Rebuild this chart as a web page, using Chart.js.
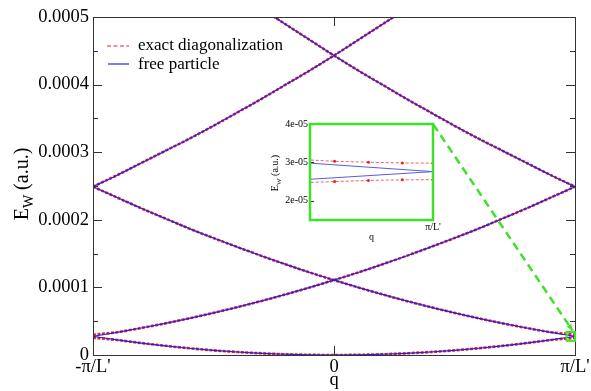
<!DOCTYPE html>
<html>
<head>
<meta charset="utf-8">
<script src="https://cdn.jsdelivr.net/npm/chart.js@4.4.0/dist/chart.umd.min.js"></script>
<style>
  body { margin: 0; background: #fff; }
  #wrap { position: relative; width: 591px; height: 391px; }
  #inset { position: absolute; left: 255px; top: 114px; }
</style>
</head>
<body>
<div id="wrap">
  <canvas id="main" width="591" height="391"></canvas>
  <canvas id="inset" width="195" height="135"></canvas>
</div>
<script>
// q in units of pi/L', energies in units of 1e-5 a.u.
const qMain = [-1, -0.9, -0.8, -0.7, -0.6, -0.5, -0.4, -0.3, -0.2, -0.1, 0, 0.1, 0.2, 0.3, 0.4, 0.5, 0.6, 0.7, 0.8, 0.9, 1];
const qTicks = [-1, 0, 1];
const qTickLabels = ["-π/L'", "0", "π/L'"];

// free particle branches
const freeBand0 = [2.77, 2.24, 1.77, 1.36, 1.00, 0.69, 0.44, 0.25, 0.11, 0.03, 0, 0.03, 0.11, 0.25, 0.44, 0.69, 1.00, 1.36, 1.77, 2.24, 2.77];
const freeDown1 = [24.9, 23.3, 21.7, 20.2, 18.7, 17.3, 15.96, 14.65, 13.4, 12.2, 11.08, 10.0, 8.97, 8.0, 7.09, 6.23, 5.43, 4.68, 3.99, 3.35, 2.77];
const freeUp1 = [2.77, 3.35, 3.99, 4.68, 5.43, 6.23, 7.09, 8.0, 8.97, 10.0, 11.08, 12.2, 13.4, 14.65, 15.96, 17.3, 18.7, 20.2, 21.7, 23.3, 24.9];
const freeDown2 = [null, null, null, null, null, null, null, 51.2, 48.9, 46.6, 44.3, 42.1, 40.0, 37.9, 35.9, 33.9, 32.0, 30.2, 28.4, 26.6, 24.9];
const freeUp2 = [24.9, 26.6, 28.4, 30.2, 32.0, 33.9, 35.9, 37.9, 40.0, 42.1, 44.3, 46.6, 48.9, 51.2, null, null, null, null, null, null, null];

// exact diagonalization (small gaps open at the zone edge)
const exactBand0 = [2.55, 2.22, 1.77, 1.36, 1.00, 0.69, 0.44, 0.25, 0.11, 0.03, 0, 0.03, 0.11, 0.25, 0.44, 0.69, 1.00, 1.36, 1.77, 2.22, 2.55];
const exactDown1 = [24.9, 23.3, 21.7, 20.2, 18.7, 17.3, 15.96, 14.65, 13.4, 12.2, 11.08, 10.0, 8.97, 8.0, 7.09, 6.23, 5.43, 4.68, 3.99, 3.37, 3.00];
const exactUp1 = [3.00, 3.37, 3.99, 4.68, 5.43, 6.23, 7.09, 8.0, 8.97, 10.0, 11.08, 12.2, 13.4, 14.65, 15.96, 17.3, 18.7, 20.2, 21.7, 23.3, 24.9];
const exactDown2 = [null, null, null, null, null, null, null, 51.2, 48.9, 46.6, 44.3, 42.1, 40.0, 37.9, 35.9, 33.9, 32.0, 30.2, 28.4, 26.6, 24.9];
const exactUp2 = [24.9, 26.6, 28.4, 30.2, 32.0, 33.9, 35.9, 37.9, 40.0, 42.1, 44.3, 46.6, 48.9, 51.2, null, null, null, null, null, null, null];

// inset, close to q = pi/L'
const qInsetFree = [0.96, 1.0];
const insetFreeUpper = [2.98, 2.76];
const insetFreeLower = [2.56, 2.76];
const qInsetExact = [0.957, 0.968, 0.979, 0.99, 1.0];
const insetExactUpper = [3.075, 3.03, 3.005, 2.985, 2.98];
const insetExactLower = [2.47, 2.50, 2.53, 2.545, 2.55];
const insetYTicks = [2, 3, 4];

const SERIF = '"Liberation Serif", "Times New Roman", serif';
const RED = '#ee2020';
const BLUE = '#2424dd';
const GREEN = '#3fe02a';

function pts(xs, ys) {
	return xs.map((x, i) => ({x: x, y: ys[i]}));
}

function blueLine(ys) {
	return {data: pts(qMain, ys), borderColor: BLUE, borderWidth: 1.2, pointRadius: 0,
		cubicInterpolationMode: 'monotone', clip: 0};
}
function redLine(ys) {
	return {data: pts(qMain, ys), borderColor: RED, borderWidth: 2.6, borderDash: [3, 1.5], pointRadius: 0,
		cubicInterpolationMode: 'monotone', clip: 0};
}

function drawEwTitle(ctx, cx, cy, big, small) {
	ctx.save();
	ctx.translate(cx, cy);
	ctx.rotate(-Math.PI / 2);
	ctx.fillStyle = '#000';
	ctx.textBaseline = 'alphabetic';
	ctx.textAlign = 'left';
	let fBig = big + 'px ' + SERIF, fSmall = small + 'px ' + SERIF;
	ctx.font = fBig;
	let wE = ctx.measureText('E').width;
	let wRest = ctx.measureText(' (a.u.)').width;
	ctx.font = fSmall;
	let wW = ctx.measureText('W').width;
	let x0 = -(wE + wW + wRest) / 2;
	let base = big * 0.33;
	ctx.font = fBig;
	ctx.fillText('E', x0, base);
	ctx.font = fSmall;
	ctx.fillText('W', x0 + wE, base + big * 0.25);
	ctx.font = fBig;
	ctx.fillText(' (a.u.)', x0 + wE + wW, base);
	ctx.restore();
}

const mainDecor = {
	id: 'mainDecor',
	afterDraw(chart) {
		const {ctx, chartArea: a, scales: {x, y}} = chart;
		ctx.save();

		// frame and inward ticks
		ctx.strokeStyle = '#333';
		ctx.lineWidth = 1;
		ctx.strokeRect(a.left + 0.5, a.top + 0.5, a.right - a.left, a.bottom - a.top);
		ctx.beginPath();
		y.ticks.forEach((t, i) => {
			let py = Math.round(y.getPixelForValue(t.value)) + 0.5;
			ctx.moveTo(a.left, py); ctx.lineTo(a.left + 9, py);
			ctx.moveTo(a.right, py); ctx.lineTo(a.right - 9, py);
			if (i < y.ticks.length - 1) {
				let pm = Math.round(y.getPixelForValue(t.value + 5)) + 0.5;
				ctx.moveTo(a.left, pm); ctx.lineTo(a.left + 5, pm);
				ctx.moveTo(a.right, pm); ctx.lineTo(a.right - 5, pm);
			}
		});
		let px = Math.round(x.getPixelForValue(0)) + 0.5;
		ctx.moveTo(px, a.bottom); ctx.lineTo(px, a.bottom - 9);
		ctx.moveTo(px, a.top); ctx.lineTo(px, a.top + 9);
		ctx.stroke();

		// legend
		ctx.font = '17px ' + SERIF;
		ctx.textBaseline = 'middle';
		ctx.fillStyle = '#000';
		ctx.lineWidth = 1.2;
		ctx.strokeStyle = RED;
		ctx.setLineDash([4, 2.5]);
		ctx.beginPath();
		ctx.moveTo(a.left + 14, a.top + 29); ctx.lineTo(a.left + 36, a.top + 29);
		ctx.stroke();
		ctx.setLineDash([]);
		ctx.strokeStyle = BLUE;
		ctx.beginPath();
		ctx.moveTo(a.left + 15, a.top + 47); ctx.lineTo(a.left + 36, a.top + 47);
		ctx.stroke();
		ctx.fillText('exact diagonalization', a.left + 45, a.top + 29);
		ctx.fillText('free particle', a.left + 45, a.top + 48);

		// y title
		drawEwTitle(ctx, 21, 184, 20, 14);

		// zoom box and arrow to the inset
		ctx.strokeStyle = GREEN;
		ctx.fillStyle = GREEN;
		ctx.lineWidth = 2;
		let bx0 = x.getPixelForValue(0.965), bx1 = x.getPixelForValue(1.0);
		let by0 = y.getPixelForValue(3.4), by1 = y.getPixelForValue(2.1);
		ctx.strokeRect(bx0, by0, bx1 - bx0, by1 - by0);
		let sx = x.getPixelForValue(0.412), sy = y.getPixelForValue(34.1);
		let ex = x.getPixelForValue(0.99), ey = y.getPixelForValue(3.6);
		ctx.lineWidth = 2.5;
		ctx.setLineDash([8, 5]);
		ctx.beginPath();
		ctx.moveTo(sx, sy); ctx.lineTo(ex, ey);
		ctx.stroke();
		ctx.setLineDash([]);
		let ang = Math.atan2(ey - sy, ex - sx);
		ctx.beginPath();
		ctx.moveTo(ex, ey);
		ctx.lineTo(ex - 7 * Math.cos(ang - 0.4), ey - 7 * Math.sin(ang - 0.4));
		ctx.lineTo(ex - 7 * Math.cos(ang + 0.4), ey - 7 * Math.sin(ang + 0.4));
		ctx.closePath();
		ctx.fill();
		ctx.restore();
	}
};

new Chart(document.getElementById('main'), {
	type: 'line',
	data: {
		datasets: [
			blueLine(freeBand0), blueLine(freeDown1), blueLine(freeUp1), blueLine(freeDown2), blueLine(freeUp2),
			redLine(exactBand0), redLine(exactDown1), redLine(exactUp1), redLine(exactDown2), redLine(exactUp2)
		]
	},
	options: {
		responsive: false,
		animation: false,
		devicePixelRatio: 1,
		layout: {padding: {top: 17, right: 16, left: 0, bottom: 0}},
		plugins: {legend: {display: false}, tooltip: {enabled: false}},
		scales: {
			x: {
				type: 'linear', min: -1, max: 1,
				afterBuildTicks: s => { s.ticks = qTicks.map(v => ({value: v})); },
				afterFit: s => { s.height = 36; },
				ticks: {
					callback: (v, i) => qTickLabels[i],
					font: {family: SERIF, size: 18.5}, color: '#000',
					maxRotation: 0, autoSkip: false, padding: 1
				},
				grid: {display: false, drawTicks: false},
				border: {display: false},
				title: {display: true, text: 'q', font: {family: SERIF, size: 18.5}, color: '#000', padding: 0}
			},
			y: {
				min: 0, max: 50,
				afterFit: s => { s.width = 93; },
				ticks: {
					stepSize: 10,
					callback: v => v === 0 ? '0' : (v / 1e5).toFixed(4),
					font: {family: SERIF, size: 18.5}, color: '#000',
					autoSkip: false, padding: 4
				},
				grid: {display: false, drawTicks: false},
				border: {display: false}
			}
		}
	},
	plugins: [mainDecor]
});

const insetDecor = {
	id: 'insetDecor',
	afterDraw(chart) {
		const {ctx, chartArea: a, scales: {y}} = chart;
		ctx.save();
		ctx.strokeStyle = '#333';
		ctx.lineWidth = 1;
		ctx.beginPath();
		y.ticks.forEach(t => {
			let py = Math.round(y.getPixelForValue(t.value)) + 0.5;
			ctx.moveTo(a.left, py); ctx.lineTo(a.left + 4, py);
		});
		ctx.stroke();
		ctx.strokeStyle = GREEN;
		ctx.lineWidth = 2.5;
		ctx.strokeRect(a.left, a.top, a.right - a.left, a.bottom - a.top);
		drawEwTitle(ctx, 20, 59, 10, 7);
		ctx.restore();
	}
};

new Chart(document.getElementById('inset'), {
	type: 'line',
	data: {
		datasets: [
			{data: pts(qInsetFree, insetFreeUpper), borderColor: '#5a5ae6', borderWidth: 1, pointRadius: 0, clip: 0},
			{data: pts(qInsetFree, insetFreeLower), borderColor: '#5a5ae6', borderWidth: 1, pointRadius: 0, clip: 0},
			{data: pts(qInsetExact, insetExactUpper), borderColor: 'rgba(240,70,70,0.85)', borderWidth: 1, borderDash: [3, 2],
				pointRadius: 1.5, pointBackgroundColor: RED, pointBorderWidth: 0, clip: 0},
			{data: pts(qInsetExact, insetExactLower), borderColor: 'rgba(240,70,70,0.85)', borderWidth: 1, borderDash: [3, 2],
				pointRadius: 1.5, pointBackgroundColor: RED, pointBorderWidth: 0, clip: 0}
		]
	},
	options: {
		responsive: false,
		animation: false,
		devicePixelRatio: 1,
		layout: {padding: {top: 10, right: 17, left: 0, bottom: 0}},
		plugins: {legend: {display: false}, tooltip: {enabled: false}},
		scales: {
			x: {
				type: 'linear', min: 0.96, max: 1.0,
				afterBuildTicks: s => { s.ticks = [{value: 1}]; },
				afterFit: s => { s.height = 29; },
				ticks: {
					callback: () => "π/L'",
					font: {family: SERIF, size: 10}, color: '#000',
					maxRotation: 0, autoSkip: false, padding: 1
				},
				grid: {display: false, drawTicks: false},
				border: {display: false},
				title: {display: true, text: 'q', font: {family: SERIF, size: 10}, color: '#000', padding: {top: 0, bottom: 6}}
			},
			y: {
				min: 1.5, max: 4,
				afterBuildTicks: s => { s.ticks = insetYTicks.map(v => ({value: v})); },
				afterFit: s => { s.width = 55; },
				ticks: {
					callback: v => v + 'e-05',
					font: {family: SERIF, size: 10}, color: '#000',
					autoSkip: false, padding: 2
				},
				grid: {display: false, drawTicks: false},
				border: {display: false}
			}
		}
	},
	plugins: [insetDecor]
});
</script>
</body>
</html>
